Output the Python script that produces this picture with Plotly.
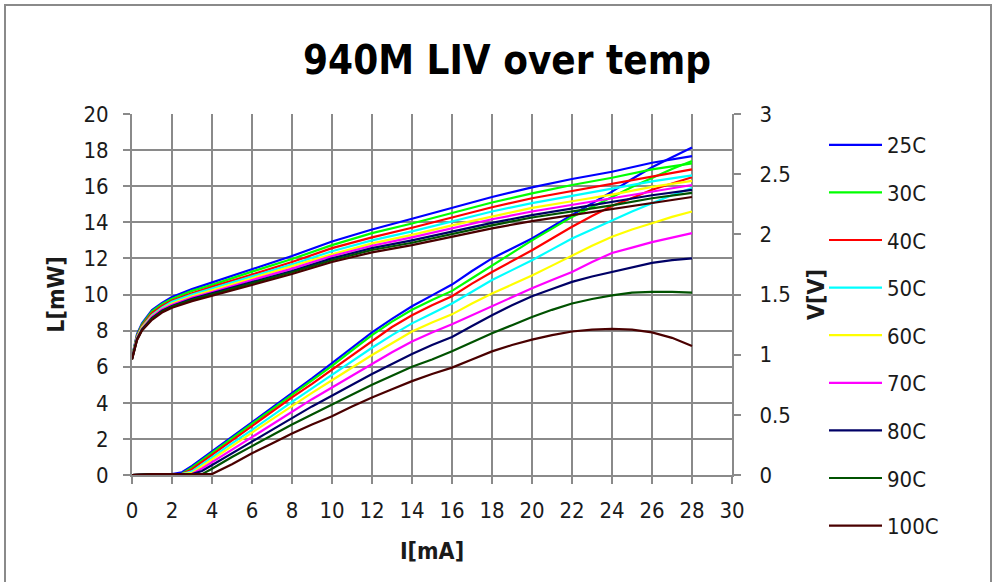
import plotly.graph_objects as go

# ---------------- data ----------------
temps = ["25C", "30C", "40C", "50C", "60C", "70C", "80C", "90C", "100C"]
colors = ["#0000FF", "#00FF00", "#FF0000", "#00FFFF", "#FFFF00",
          "#FF00FF", "#000066", "#005200", "#4A0000"]

# Light output L[mW] vs current I[mA]
I_L = [0, 1, 2, 2.5, 3, 3.5, 4, 5, 6, 7, 8, 9, 10, 11, 12, 13, 14, 15, 16,
       17, 18, 19, 20, 21, 22, 23, 24, 25, 26, 27, 28]
L25 = [0, 0.05, 0.05, 0.15, 0.5, 0.9, 1.3, 2.1, 2.9, 3.7, 4.5, 5.35, 6.2, 7.05, 7.9, 8.65,
       9.35, 9.95, 10.55, 11.3, 12.0, 12.55, 13.1, 13.75, 14.4, 15.05, 15.7, 16.4, 17.05, 17.6, 18.15]
L30 = [0, 0.05, 0.05, 0.07, 0.42, 0.82, 1.2, 2.0, 2.8, 3.6, 4.4, 5.2, 6.05, 6.9, 7.75, 8.5,
       9.15, 9.7, 10.2, 10.9, 11.6, 12.3, 13.0, 13.65, 14.3, 14.85, 15.4, 15.95, 16.45, 16.95, 17.4]
L40 = [0, 0.05, 0.05, 0.05, 0.32, 0.72, 1.1, 1.9, 2.7, 3.5, 4.3, 5.05, 5.85, 6.65, 7.45, 8.2,
       8.85, 9.4, 9.9, 10.6, 11.25, 11.85, 12.45, 13.1, 13.75, 14.35, 14.9, 15.35, 15.8, 16.15, 16.5]
L50 = [0, 0.05, 0.05, 0.05, 0.2, 0.6, 1.0, 1.75, 2.5, 3.3, 4.05, 4.8, 5.55, 6.3, 7.05, 7.75,
       8.4, 8.95, 9.5, 10.15, 10.8, 11.35, 11.9, 12.5, 13.1, 13.6, 14.1, 14.6, 15.05, 15.5, 15.9]
L60 = [0, 0.05, 0.05, 0.05, 0.12, 0.48, 0.85, 1.6, 2.35, 3.1, 3.85, 4.55, 5.25, 5.95, 6.65, 7.3,
       7.95, 8.45, 8.9, 9.5, 10.05, 10.55, 11.05, 11.6, 12.15, 12.7, 13.2, 13.6, 13.95, 14.3, 14.6]
L70 = [0, 0.05, 0.05, 0.05, 0.06, 0.36, 0.7, 1.4, 2.1, 2.8, 3.5, 4.2, 4.85, 5.5, 6.15, 6.8,
       7.4, 7.9, 8.35, 8.85, 9.35, 9.85, 10.35, 10.8, 11.25, 11.8, 12.3, 12.6, 12.9, 13.15, 13.4]
L80 = [0, 0.05, 0.05, 0.05, 0.05, 0.22, 0.55, 1.2, 1.85, 2.5, 3.15, 3.8, 4.4, 5.0, 5.6, 6.15,
       6.7, 7.2, 7.65, 8.25, 8.85, 9.4, 9.9, 10.3, 10.7, 11.0, 11.25, 11.5, 11.75, 11.9, 12.0]
L90 = [0, 0.05, 0.05, 0.05, 0.05, 0.05, 0.35, 1.0, 1.6, 2.2, 2.8, 3.35, 3.9, 4.45, 5.0, 5.5,
       6.0, 6.4, 6.85, 7.35, 7.85, 8.3, 8.75, 9.15, 9.5, 9.75, 9.95, 10.1, 10.15, 10.15, 10.1]
L100 = [0, 0.05, 0.05, 0.05, 0.05, 0.05, 0.05, 0.6, 1.2, 1.75, 2.3, 2.8, 3.25, 3.8, 4.3, 4.75,
        5.2, 5.6, 5.95, 6.4, 6.85, 7.2, 7.5, 7.75, 7.95, 8.05, 8.1, 8.05, 7.9, 7.6, 7.15]

# Voltage V[V] vs current I[mA]
I_V = [0, 0.25, 0.5, 1, 1.5, 2, 3, 4, 6, 8, 10, 12, 14, 16, 18, 20, 22, 24, 26, 28]
V25 = [0.98, 1.17, 1.26, 1.37, 1.43, 1.48, 1.545, 1.60, 1.71, 1.82, 1.94, 2.04, 2.13,
       2.22, 2.31, 2.39, 2.46, 2.52, 2.595, 2.65]
V30 = [0.98, 1.16, 1.25, 1.36, 1.42, 1.465, 1.53, 1.58, 1.69, 1.795, 1.91, 2.01, 2.09,
       2.18, 2.265, 2.34, 2.41, 2.47, 2.54, 2.59]
V40 = [0.97, 1.155, 1.24, 1.345, 1.405, 1.45, 1.51, 1.565, 1.665, 1.77, 1.885, 1.975, 2.055,
       2.14, 2.225, 2.30, 2.36, 2.42, 2.485, 2.54]
V50 = [0.97, 1.145, 1.23, 1.33, 1.39, 1.44, 1.50, 1.55, 1.65, 1.75, 1.86, 1.95, 2.025,
       2.105, 2.19, 2.26, 2.32, 2.375, 2.44, 2.49]
V60 = [0.97, 1.14, 1.225, 1.32, 1.38, 1.425, 1.485, 1.535, 1.63, 1.73, 1.835, 1.925, 1.995,
       2.075, 2.15, 2.22, 2.275, 2.33, 2.395, 2.445]
V70 = [0.965, 1.135, 1.215, 1.315, 1.375, 1.415, 1.475, 1.52, 1.62, 1.715, 1.82, 1.905, 1.975,
       2.05, 2.125, 2.19, 2.245, 2.30, 2.36, 2.41]
V80 = [0.965, 1.13, 1.21, 1.305, 1.365, 1.405, 1.465, 1.51, 1.605, 1.695, 1.80, 1.885, 1.95,
       2.025, 2.095, 2.16, 2.215, 2.265, 2.325, 2.37]
V90 = [0.96, 1.125, 1.205, 1.30, 1.36, 1.40, 1.455, 1.50, 1.595, 1.685, 1.785, 1.87, 1.93,
       2.005, 2.075, 2.14, 2.19, 2.24, 2.30, 2.345]
V100 = [0.96, 1.12, 1.20, 1.29, 1.35, 1.39, 1.445, 1.49, 1.58, 1.67, 1.77, 1.85, 1.91,
        1.98, 2.05, 2.11, 2.16, 2.21, 2.265, 2.31]

L_series = [L25, L30, L40, L50, L60, L70, L80, L90, L100]
V_series = [V25, V30, V40, V50, V60, V70, V80, V90, V100]

x_ticks = list(range(0, 31, 2))
yL_ticks = list(range(0, 21, 2))
yV_ticks = [0, 0.5, 1, 1.5, 2, 2.5, 3]

# ---------------- figure ----------------
FONT = "DejaVu Sans Condensed, DejaVu Sans, sans-serif"
GRID = "#8a8a8a"
TXT = "#1a1a1a"

fig = go.Figure()
for t, c, L in zip(temps, colors, L_series):
    fig.add_trace(go.Scatter(x=I_L, y=L, mode="lines", name=t, legendgroup=t,
                             line=dict(color=c, width=2.2), yaxis="y"))
for t, c, V in zip(temps, colors, V_series):
    fig.add_trace(go.Scatter(x=I_V, y=V, mode="lines", name=t, legendgroup=t,
                             showlegend=False, line=dict(color=c, width=2.2), yaxis="y2"))

axis_common = dict(showline=True, linecolor=GRID, linewidth=2, ticks="outside",
                   tickcolor=GRID, tickwidth=2, ticklen=7, zeroline=False,
                   tickfont=dict(family=FONT, size=22, color=TXT))

fig.update_layout(
    width=994, height=582,
    margin=dict(l=132, r=262, t=114, b=107),
    paper_bgcolor="white", plot_bgcolor="white",
    font=dict(family=FONT, color=TXT),
    title=dict(text="<b>940M LIV over temp</b>", x=507 / 994, xref="container",
               xanchor="center", y=1 - 60 / 582, yref="container", yanchor="middle",
               font=dict(family=FONT, size=40, color="#000000")),
    xaxis=dict(range=[0, 30], tickvals=x_ticks, showgrid=True, gridcolor=GRID, gridwidth=2,
               title=dict(text="<b>I[mA]</b>", standoff=20,
                          font=dict(family=FONT, size=23, color=TXT)),
               ticklabelstandoff=8, **axis_common),
    yaxis=dict(range=[0, 20], tickvals=yL_ticks, showgrid=True, gridcolor=GRID, gridwidth=2,
               title=dict(text="<b>L[mW]</b>", standoff=12,
                          font=dict(family=FONT, size=23, color=TXT)),
               ticklabelstandoff=10, **axis_common),
    yaxis2=dict(range=[0, 3], tickvals=yV_ticks, overlaying="y", side="right", showgrid=False,
                title=dict(text="<b>V[V]</b>", standoff=18,
                           font=dict(family=FONT, size=23, color=TXT)),
                ticklabelstandoff=14, **axis_common),
    legend=dict(x=(824 - 132) / 600, xanchor="left", y=(475 - 124) / 361, yanchor="top",
                font=dict(family=FONT, size=22, color=TXT), tracegroupgap=16,
                itemwidth=53, maxheight=560,
                bgcolor="rgba(0,0,0,0)", traceorder="grouped"),
    shapes=[dict(type="rect", xref="paper", yref="paper",
                 x0=(5 - 132) / 600, x1=(991 - 132) / 600,
                 y0=(475 - 640) / 361, y1=(475 - 5) / 361,
                 line=dict(color="#8a8a8a", width=2), fillcolor="rgba(0,0,0,0)",
                 layer="below")],
)

fig.write_html("out.html", config={"displayModeBar": False},
               post_script="document.body.style.margin='0';")
